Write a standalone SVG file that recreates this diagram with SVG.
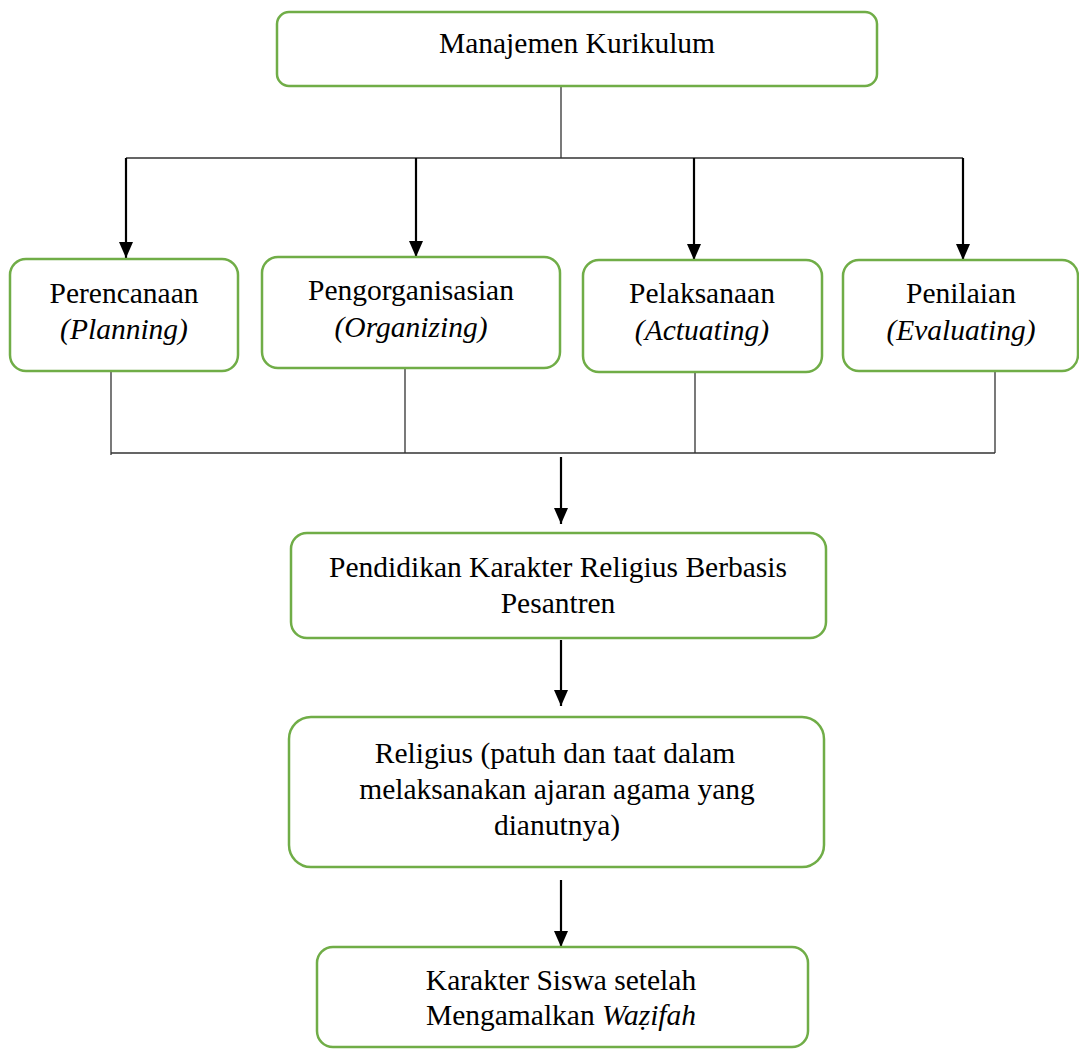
<svg xmlns="http://www.w3.org/2000/svg" width="1079" height="1049" viewBox="0 0 1079 1049">
<style>
.box{fill:#fff;stroke:#70AD47;stroke-width:2.5}
.t{font-family:"Liberation Serif","Times New Roman",serif;font-size:29.5px;fill:#000;text-anchor:middle}
.i{font-style:italic}
.thin{stroke:#333;stroke-width:1.3;fill:none}
.arr{stroke:#000;stroke-width:2.2;fill:none;marker-end:url(#ah)}
</style>
<defs>
<marker id="ah" markerUnits="userSpaceOnUse" markerWidth="16" markerHeight="14" refX="16" refY="7" orient="auto" viewBox="0 0 16 14">
<path d="M0,0 L16,7 L0,14 z" fill="#000"/>
</marker>
</defs>
<g id="connectors">
<path class="thin" d="M561,86 V158 M126,158 H963 M111,371 V455 M405,368 V453 M695,372 V453 M995,370 V453 M111,453 H995"/>
<path class="arr" d="M126,158 V258"/>
<path class="arr" d="M416,158 V257"/>
<path class="arr" d="M694,158 V260"/>
<path class="arr" d="M963,158 V260"/>
<path class="arr" d="M561,457 V524"/>
<path class="arr" d="M561,640 V706"/>
<path class="arr" d="M561,880 V947"/>
</g>
<g id="n-manajemen">
<rect class="box" x="277" y="12" width="600" height="74" rx="12"/>
<text class="t" x="577" y="53">Manajemen Kurikulum</text>
</g>
<g id="n-perencanaan">
<rect class="box" x="10" y="259" width="228" height="112" rx="16"/>
<text class="t" x="124" y="303">Perencanaan</text>
<text class="t i" x="124" y="339">(Planning)</text>
</g>
<g id="n-pengorganisasian">
<rect class="box" x="262" y="257" width="298" height="111" rx="16"/>
<text class="t" x="411" y="300">Pengorganisasian</text>
<text class="t i" x="411" y="337">(Organizing)</text>
</g>
<g id="n-pelaksanaan">
<rect class="box" x="583" y="260" width="239" height="112" rx="16"/>
<text class="t" x="702" y="303">Pelaksanaan</text>
<text class="t i" x="702" y="340">(Actuating)</text>
</g>
<g id="n-penilaian">
<rect class="box" x="843" y="260" width="235" height="111" rx="16"/>
<text class="t" x="961" y="303">Penilaian</text>
<text class="t i" x="961" y="340">(Evaluating)</text>
</g>
<g id="n-pendidikan">
<rect class="box" x="291" y="533" width="535" height="105" rx="16"/>
<text class="t" x="558" y="577">Pendidikan Karakter Religius Berbasis</text>
<text class="t" x="558" y="613">Pesantren</text>
</g>
<g id="n-religius">
<rect class="box" x="289" y="717" width="535" height="150" rx="22"/>
<text class="t" x="555" y="763">Religius (patuh dan taat dalam</text>
<text class="t" x="557" y="799">melaksanakan ajaran agama yang</text>
<text class="t" x="557" y="835">dianutnya)</text>
</g>
<g id="n-karakter">
<rect class="box" x="317" y="947" width="491" height="100" rx="16"/>
<text class="t" x="561" y="990">Karakter Siswa setelah</text>
<text class="t" x="561" y="1025">Mengamalkan <tspan class="i">Waẓifah</tspan></text>
</g>
</svg>
